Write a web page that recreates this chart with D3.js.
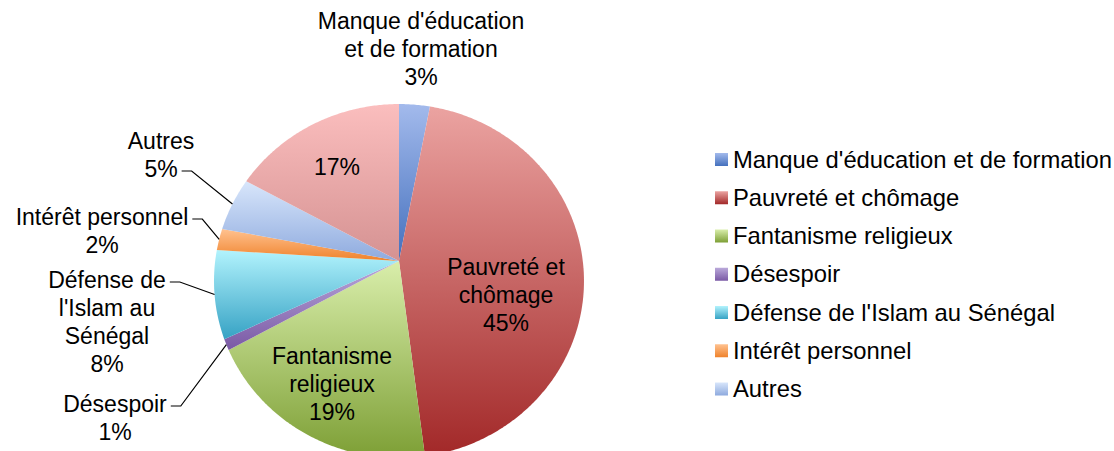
<!DOCTYPE html>
<html>
<head>
<meta charset="utf-8">
<script src="https://cdn.jsdelivr.net/npm/d3@7"></script>
<style>
  body { margin: 0; background: #fff; }
  svg text { font-family: "Liberation Sans", Arial, sans-serif; fill: #000; }
</style>
</head>
<body>
<div id="chart"></div>
<script>
// slices, clockwise from 12 o'clock; the last one has no legend entry in the source
const categories = ["Manque d'éducation et de formation", "Pauvreté et chômage", "Fantanisme religieux",
  "Désespoir", "Défense de l'Islam au Sénégal", "Intérêt personnel", "Autres", ""];
const shares = [3, 45, 19, 1, 8, 2, 5, 17];
const labelLines = [["Manque d'éducation", "et de formation"], ["Pauvreté et", "chômage"], ["Fantanisme", "religieux"],
  ["Désespoir"], ["Défense de", "l'Islam au", "Sénégal"], ["Intérêt personnel"], ["Autres"], []];
const topColors = ["#a3baec", "#eba3a1", "#d9eeab", "#baa9da", "#b2f3fd", "#ffc290", "#d8e6fb", "#fbbebe"];
const bottomColors = ["#4470bd", "#a22828", "#7d9f35", "#7a59a5", "#36a2c4", "#ef822b", "#8eaade", "#d59292"];

// where Excel put the text: [centre x, first baseline, line the leader starts from]
const labelAt = [[421, 29, null], [506, 275, null], [332, 364, null], [115, 412, 0],
  [107, 288, 0], [102, 225, 0], [161, 149, 1], [337, 175, null]];

const W = 1114, H = 451;
const fontPx = 23, lineH = 28;

const svg = d3.select('#chart').append('svg')
  .attr('width', W).attr('height', H);

const defs = svg.append('defs');
categories.forEach((c, i) => {
  const g = defs.append('linearGradient')
    .attr('id', 'grad' + i)
    .attr('x1', 0).attr('y1', 0).attr('x2', 0).attr('y2', 1);
  g.append('stop').attr('offset', '0%').attr('stop-color', topColors[i]);
  g.append('stop').attr('offset', '100%').attr('stop-color', bottomColors[i]);
});

// pie is seen in slight perspective: slices meet above the centre of the outline
const vx = 399, vy = 261, rx = 183.8, ry = 174.7, tilt = -0.113;
function project(angle, t) {
  const u = t * Math.sin(angle), v = -t * Math.cos(angle);
  const w = 1 + tilt * v;
  return [vx + rx * u / w, vy + ry * v / w];
}

const pie = d3.pie().sort(null).value(d => d)(shares);

const line = d3.line();
function slicePath(d) {
  const pts = [[vx, vy]];
  const steps = Math.max(2, Math.ceil((d.endAngle - d.startAngle) / 0.01));
  for (let s = 0; s <= steps; s++) {
    pts.push(project(d.startAngle + (d.endAngle - d.startAngle) * s / steps, 1));
  }
  return line(pts) + 'Z';
}

svg.append('g').selectAll('path')
  .data(pie)
  .enter()
  .append('path')
  .attr('d', slicePath)
  .attr('fill', (d, i) => 'url(#grad' + i + ')');

// data labels
const labels = svg.append('g').selectAll('g.lbl')
  .data(pie)
  .enter()
  .append('g')
  .attr('class', 'lbl');

labels.each(function(d, i) {
  const g = d3.select(this);
  const lines = labelLines[i].concat([shares[i] + '%']);
  const [cx, by, anchorLine] = labelAt[i];
  const texts = lines.map((t, j) => g.append('text')
    .attr('x', cx)
    .attr('y', by + j * lineH)
    .attr('text-anchor', 'middle')
    .style('font-size', fontPx + 'px')
    .text(t));
  if (anchorLine !== null) {
    const node = texts[anchorLine].node();
    const x0 = cx + node.getComputedTextLength() / 2 + 4;
    const y0 = by + anchorLine * lineH - 6;
    const rim = project((d.startAngle + d.endAngle) / 2, 1);
    g.append('path')
      .attr('d', d3.line()([[x0, y0], [x0 + 10, y0], rim]))
      .attr('fill', 'none')
      .attr('stroke', '#000')
      .attr('stroke-width', 1.2);
  }
});

// legend
const legendItems = categories.map((c, i) => ({ name: c, i })).filter(d => d.name !== '');
const legendY = d3.scalePoint()
  .domain(legendItems.map(d => d.name))
  .range([167.5, 397]);

const legend = svg.append('g').selectAll('g')
  .data(legendItems)
  .enter()
  .append('g')
  .attr('transform', d => 'translate(715,' + legendY(d.name) + ')');

legend.append('rect')
  .attr('x', 0).attr('y', -14.5)
  .attr('width', 13).attr('height', 13)
  .attr('fill', d => 'url(#grad' + d.i + ')');

legend.append('text')
  .attr('x', 18).attr('y', 0)
  .style('font-size', '23.8px')
  .text(d => d.name);
</script>
</body>
</html>
